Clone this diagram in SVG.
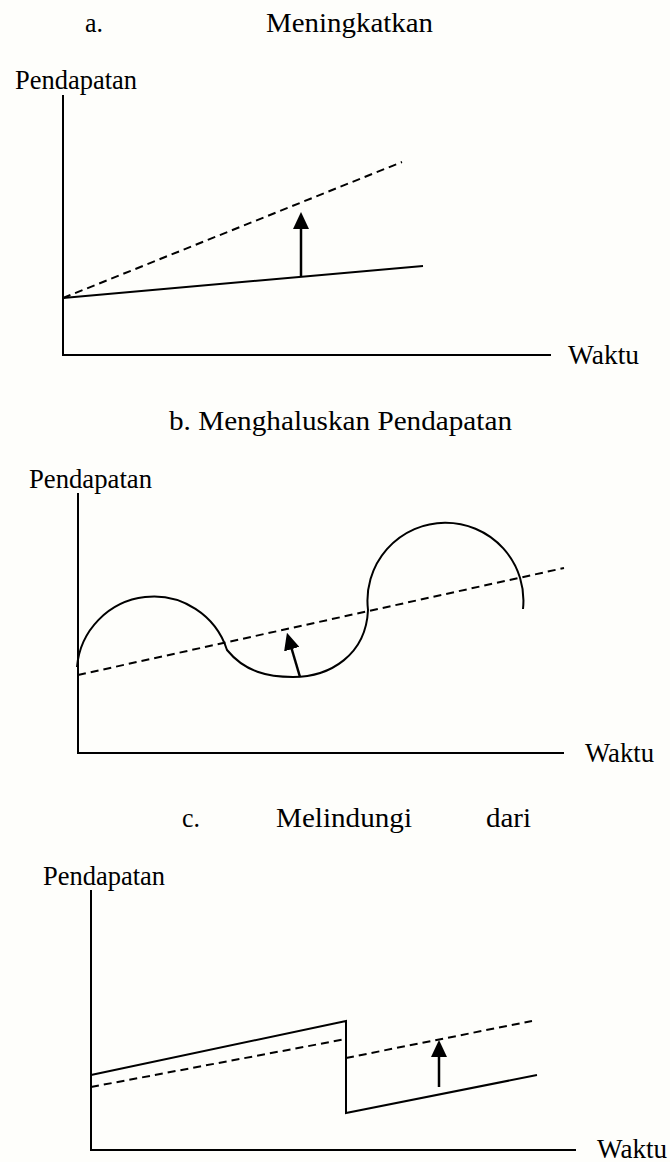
<svg xmlns="http://www.w3.org/2000/svg" width="670" height="1162" viewBox="0 0 670 1162">
<style>
  text { font-family: "Liberation Serif", "Times New Roman", serif; fill: #000; }
  .title { font-size: 28px; }
  .lbl { font-size: 27px; }
  .axis { stroke: #000; stroke-width: 2; fill: none; }
  .solid { stroke: #000; stroke-width: 2; fill: none; }
  .dash { stroke: #000; stroke-width: 2; fill: none; stroke-dasharray: 8 5; }
  .arr { stroke: #000; stroke-width: 2.5; fill: none; marker-end: url(#ah); }
</style>
<defs>
  <marker id="ah" markerUnits="userSpaceOnUse" markerWidth="17" markerHeight="16" refX="8" refY="8" orient="auto" viewBox="0 0 17 16">
    <path d="M0,0 L17,8 L0,16 Z" fill="#000"/>
  </marker>
</defs>
<rect x="0" y="0" width="670" height="1162" fill="#fefefb"/>

<g id="panel-a">
  <text class="title" x="85" y="32" textLength="18" lengthAdjust="spacingAndGlyphs">a.</text>
  <text class="title" x="266" y="32" textLength="167" lengthAdjust="spacingAndGlyphs">Meningkatkan</text>
  <text class="lbl" x="15" y="89" textLength="122" lengthAdjust="spacingAndGlyphs">Pendapatan</text>
  <text class="lbl" x="568" y="364" textLength="71" lengthAdjust="spacingAndGlyphs">Waktu</text>
  <path class="axis" d="M63,95 L63,355 L551,355"/>
  <line class="solid" x1="63" y1="298" x2="423" y2="266"/>
  <line class="dash" x1="63" y1="298" x2="402" y2="162"/>
  <line class="arr" x1="301" y1="277" x2="301" y2="221"/>
</g>

<g id="panel-b">
  <text class="title" x="169" y="430" textLength="343" lengthAdjust="spacingAndGlyphs">b. Menghaluskan Pendapatan</text>
  <text class="lbl" x="29" y="488" textLength="123" lengthAdjust="spacingAndGlyphs">Pendapatan</text>
  <text class="lbl" x="585" y="762" textLength="69" lengthAdjust="spacingAndGlyphs">Waktu</text>
  <path class="axis" d="M78,493 L78,753 L564,753"/>
  <line class="dash" x1="78" y1="675" x2="564" y2="568"/>
  <path class="solid" d="M77,667 A77,77 0 0 1 227,650 C245,672 268,677 293,677 C330,677 366,655 368,610 A78,78 0 1 1 523,609"/>
  <line class="arr" x1="300" y1="677" x2="289.5" y2="641.5"/>
</g>

<g id="panel-c">
  <text class="title" x="182" y="827" textLength="18" lengthAdjust="spacingAndGlyphs">c.</text>
  <text class="title" x="276" y="827" textLength="136" lengthAdjust="spacingAndGlyphs">Melindungi</text>
  <text class="title" x="486" y="827" textLength="45" lengthAdjust="spacingAndGlyphs">dari</text>
  <text class="lbl" x="43" y="885" textLength="122" lengthAdjust="spacingAndGlyphs">Pendapatan</text>
  <text class="lbl" x="597" y="1158" textLength="70" lengthAdjust="spacingAndGlyphs">Waktu</text>
  <path class="axis" d="M91,890 L91,1150 L576,1150"/>
  <path class="solid" d="M91,1075 L346,1021 L346,1113 L537,1075"/>
  <line class="dash" x1="91" y1="1087" x2="346" y2="1039"/>
  <line class="dash" x1="346" y1="1058" x2="532" y2="1021"/>
  <line class="arr" x1="439" y1="1087" x2="439" y2="1049"/>
</g>
</svg>
